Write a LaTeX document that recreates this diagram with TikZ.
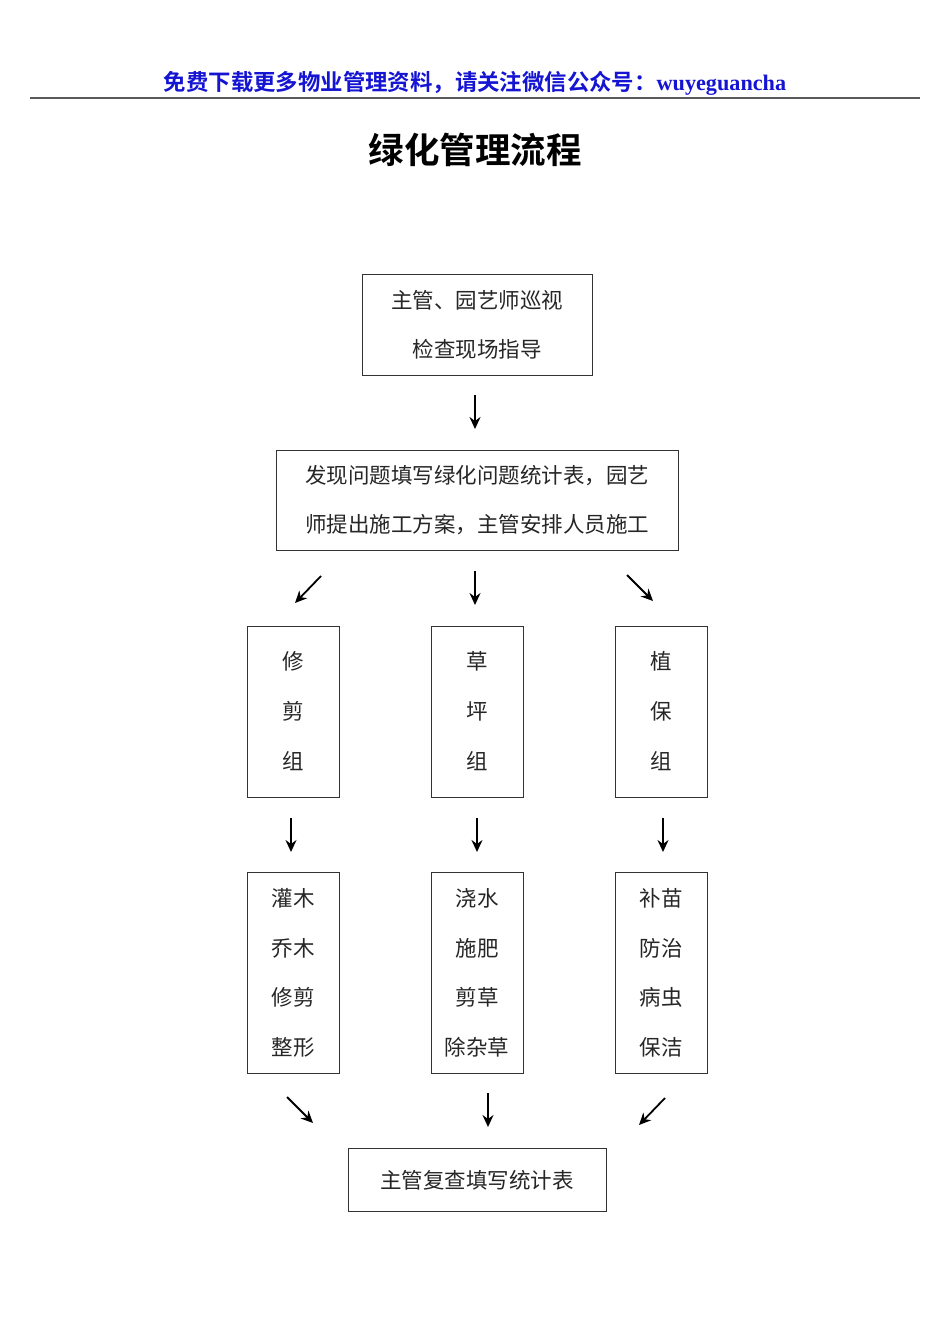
\documentclass[tikz,border=0pt]{standalone}
\usepackage{fontspec}
\setmainfont{Liberation Serif}
\newfontfamily\cjk{Noto Sans CJK SC}
\newfontfamily\cjkb{Noto Sans CJK SC Bold}
\usetikzlibrary{arrows.meta}
\definecolor{hdrblue}{RGB}{20,20,210}
\begin{document}
\begin{tikzpicture}[x=1pt,y=-1pt,
  box/.style={draw=black!80,line width=1pt,inner sep=0pt},
  txt/.style={font=\cjk\fontsize{21.5}{21.5}\selectfont,text=black!85,inner sep=0pt},
  arr/.style={line width=1.8pt,-{Stealth[length=12pt,width=11pt,inset=4pt]}}]
\useasboundingbox (0,0) rectangle (950,1344);
% header
\node[inner sep=0pt,text=hdrblue] (hdr) at (475,83) {\cjkb\fontsize{22.4}{22.4}\selectfont 免费下载更多物业管理资料，请关注微信公众号：\fontsize{22.2}{22.2}\selectfont\rmfamily\bfseries wuyeguancha};
\draw[line width=1.5pt,black!65] (30,98) coordinate (hl) -- (920,98) coordinate (hr);
\node[inner sep=0pt] (title) at (475,150) {\cjkb\fontsize{35.5}{35.5}\selectfont 绿化管理流程};
% boxes
\node[box,minimum width=230pt,minimum height=101pt] (b1) at (477,324.5) {};
\node[txt] (b1a) at (477,300) {主管、园艺师巡视};
\node[txt] (b1b) at (477,349) {检查现场指导};
\node[box,minimum width=402pt,minimum height=100pt] (b2) at (477,500) {};
\node[txt] (b2a) at (477,476) {发现问题填写绿化问题统计表，园艺};
\node[txt] (b2b) at (477,525) {师提出施工方案，主管安排人员施工};
% row 3
\foreach \n/\x/\a/\b/\c in {L/293/修/剪/组, M/477/草/坪/组, R/661/植/保/组}{
  \node[box,minimum width=92pt,minimum height=171pt] (g\n) at (\x,711.5) {};
  \node[txt] (g\n1) at (\x,661) {\a};
  \node[txt] (g\n2) at (\x,711) {\b};
  \node[txt] (g\n3) at (\x,761) {\c};
}
% row 4
\foreach \n/\x/\a/\b/\c/\d in {L/293/灌木/乔木/修剪/整形, M/477/浇水/施肥/剪草/除杂草, R/661/补苗/防治/病虫/保洁}{
  \node[box,minimum width=92pt,minimum height=201pt] (t\n) at (\x,972.5) {};
  \node[txt] (t\n1) at (\x,898) {\a};
  \node[txt] (t\n2) at (\x,948) {\b};
  \node[txt] (t\n3) at (\x,997) {\c};
  \node[txt] (t\n4) at (\x,1047) {\d};
}
\node[box,minimum width=258pt,minimum height=63pt] (fin) at (477,1179.5) {};
\node[txt] (fint) at (477,1180) {主管复查填写统计表};
% arrows
\coordinate (a1s) at (475,395); \coordinate (a1e) at (475,429);
\draw[arr] (a1s) -- (a1e);
\coordinate (a2s) at (321,576); \coordinate (a2e) at (295,603);
\coordinate (a3s) at (475,571); \coordinate (a3e) at (475,605);
\coordinate (a4s) at (627,575); \coordinate (a4e) at (653,601);
\draw[arr] (a2s) -- (a2e);
\draw[arr] (a3s) -- (a3e);
\draw[arr] (a4s) -- (a4e);
\coordinate (a5s) at (291,818); \coordinate (a5e) at (291,852);
\coordinate (a6s) at (477,818); \coordinate (a6e) at (477,852);
\coordinate (a7s) at (663,818); \coordinate (a7e) at (663,852);
\draw[arr] (a5s) -- (a5e);
\draw[arr] (a6s) -- (a6e);
\draw[arr] (a7s) -- (a7e);
\coordinate (a8s) at (287,1097); \coordinate (a8e) at (313,1123);
\coordinate (a9s) at (488,1093); \coordinate (a9e) at (488,1127);
\coordinate (a10s) at (665,1098); \coordinate (a10e) at (639,1125);
\draw[arr] (a8s) -- (a8e);
\draw[arr] (a9s) -- (a9e);
\draw[arr] (a10s) -- (a10e);
\end{tikzpicture}
\end{document}
